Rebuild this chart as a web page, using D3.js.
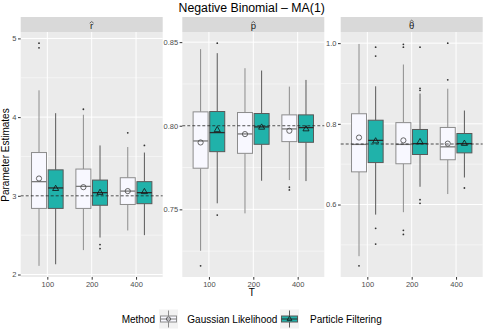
<!DOCTYPE html>
<html>
<head>
<meta charset="utf-8">
<script src="https://cdn.jsdelivr.net/npm/d3@7"></script>
<style>
  body { margin: 0; background: #fff; }
  text { font-family: "Liberation Sans", Arial, sans-serif; }
</style>
</head>
<body>
<div id="chart"></div>
<script>
// categories
const sizes = ["100", "200", "400"];
const methods = ["Gaussian Likelihood", "Particle Filtering"];
const panelLabels = ["r", "p", "\u03B8"]; // drawn with a hat on top
const trueValues = [3, 0.8, 0.75];
const yTicks = [[2, 3, 4, 5], [0.75, 0.8, 0.85], [0.6, 0.8, 1.0]];
const yMinor = [[2.5, 3.5, 4.5], [0.725, 0.775, 0.825], [0.5, 0.7, 0.9]];
const yFormat = [d3.format("d"), d3.format(".2f"), d3.format(".1f")];

// box stats per T: [lower whisker, q1, median, q3, upper whisker, mean]
const rGauss = [[2.11, 2.84, 3.18, 3.55, 4.34, 3.22], [2.31, 2.84, 3.12, 3.34, 4.03, 3.11], [2.56, 2.89, 3.06, 3.23, 3.62, 3.06]];
const rPF = [[2.13, 2.84, 3.10, 3.33, 4.05, 3.09], [2.47, 2.88, 3.04, 3.20, 3.64, 3.04], [2.50, 2.90, 3.04, 3.18, 3.55, 3.05]];
const pGauss = [[0.7252, 0.7746, 0.7909, 0.8083, 0.8458, 0.790], [0.7476, 0.7835, 0.7951, 0.8079, 0.8344, 0.795], [0.7675, 0.7905, 0.7981, 0.8065, 0.8234, 0.797]];
const pPF = [[0.7536, 0.7845, 0.7959, 0.8085, 0.8434, 0.7975], [0.7671, 0.7889, 0.7993, 0.8073, 0.8330, 0.799], [0.7669, 0.7901, 0.7989, 0.8065, 0.8274, 0.798]];
const thGauss = [[0.472, 0.681, 0.749, 0.825, 0.998, 0.766], [0.581, 0.701, 0.749, 0.803, 0.947, 0.759], [0.626, 0.711, 0.743, 0.791, 0.887, 0.751]];
const thPF = [[0.575, 0.704, 0.759, 0.809, 0.893, 0.757], [0.644, 0.724, 0.751, 0.786, 0.875, 0.755], [0.667, 0.728, 0.751, 0.776, 0.833, 0.751]];

// outliers per T
const rGaussOut = [[4.94, 4.88], [4.10], [3.80]];
const rPFOut = [[], [2.38, 2.33], [3.64]];
const pGaussOut = [[0.7162], [], [0.7632, 0.7616]];
const pPFOut = [[0.8494, 0.7466], [], []];
const thGaussOut = [[0.448], [0.997, 0.990, 0.536, 0.526], [1.0, 0.909]];
const thPFOut = [[0.990, 0.968, 0.541, 0.502], [0.990, 0.888, 0.883, 0.612, 0.603], [0.641]];

const stats = [[rGauss, rPF], [pGauss, pPF], [thGauss, thPF]];
const outliers = [[rGaussOut, rPFOut], [pGaussOut, pPFOut], [thGaussOut, thPFOut]];

//--- layout ---//
const width = 485, height = 336;
const panelLeft = [20.7, 182.3, 340.7];
const panelW = 142;
const stripTop = 17, stripH = 15, panelTop = 32, panelBottom = 277;

const fills = ["#F8F8FF", "#20B2AA"];
const outlines = ["#8c8c8c", "#595959"];
const medianCols = ["#7a7a7a", "#2b2b2b"];

const svg = d3.select("#chart").append("svg")
  .attr("width", width).attr("height", height);

svg.append("text")
  .attr("x", 251.7).attr("y", 12)
  .attr("text-anchor", "middle")
  .style("font-size", "12.3px")
  .text("Negative Binomial \u2013 MA(1)");

stats.forEach((panelStats, pi) => {
  const x0 = panelLeft[pi];
  const g = svg.append("g").attr("transform", `translate(${x0},0)`);

  // y domain with 5% expansion like ggplot
  const allVals = [];
  panelStats.forEach((m, mi) => m.forEach((s, si) => {
    allVals.push(s[0], s[4]);
    outliers[pi][mi][si].forEach(v => allVals.push(v));
  }));
  const ext = d3.extent(allVals);
  const pad = (ext[1] - ext[0]) * 0.05;
  const y = d3.scaleLinear().domain([ext[0] - pad, ext[1] + pad]).range([panelBottom, panelTop]);

  // discrete x: range of 0.4..3.6 units
  const x = d3.scaleLinear().domain([0.4, 3.6]).range([0, panelW]);
  const unit = panelW / 3.2;

  // strip
  g.append("rect").attr("y", stripTop).attr("width", panelW).attr("height", stripH).attr("fill", "#D9D9D9");
  g.append("text").attr("x", panelW / 2).attr("y", stripTop + 12)
    .attr("text-anchor", "middle").style("font-size", "9.5px").attr("fill", "#1A1A1A")
    .text(panelLabels[pi]);
  const hatY = pi === 2 ? stripTop + 3.2 : stripTop + 4.6;
  g.append("path")
    .attr("d", `M${panelW / 2 - 2},${hatY + 1.6}L${panelW / 2},${hatY}L${panelW / 2 + 2},${hatY + 1.6}`)
    .attr("fill", "none").attr("stroke", "#1A1A1A").attr("stroke-width", 0.6);

  // panel bg
  g.append("rect").attr("y", panelTop).attr("width", panelW).attr("height", panelBottom - panelTop).attr("fill", "#EBEBEB");

  // grid
  g.selectAll(".minor").data(yMinor[pi]).enter().append("line")
    .attr("x1", 0).attr("x2", panelW).attr("y1", d => y(d)).attr("y2", d => y(d))
    .attr("stroke", "#fff").attr("stroke-width", 0.5);
  g.selectAll(".major").data(yTicks[pi]).enter().append("line")
    .attr("x1", 0).attr("x2", panelW).attr("y1", d => y(d)).attr("y2", d => y(d))
    .attr("stroke", "#fff").attr("stroke-width", 1);
  g.selectAll(".vmajor").data(sizes).enter().append("line")
    .attr("x1", (d, i) => x(i + 1)).attr("x2", (d, i) => x(i + 1))
    .attr("y1", panelTop).attr("y2", panelBottom)
    .attr("stroke", "#fff").attr("stroke-width", 1);

  // y axis
  const yAxis = g.append("g").call(d3.axisLeft(y).tickValues(yTicks[pi]).tickFormat(yFormat[pi]).tickSize(2.7).tickPadding(1.5));
  yAxis.select(".domain").remove();
  yAxis.selectAll("line").attr("stroke", "#333");
  yAxis.selectAll("text").attr("fill", "#4D4D4D").style("font-size", "7.5px").attr("font-family", "Liberation Sans, Arial, sans-serif");

  // x axis
  const xAxis = g.append("g").attr("transform", `translate(0,${panelBottom})`)
    .call(d3.axisBottom(x).tickValues([1, 2, 3]).tickFormat((d, i) => sizes[i]).tickSize(2.7).tickPadding(1.5));
  xAxis.select(".domain").remove();
  xAxis.selectAll("line").attr("stroke", "#333");
  xAxis.selectAll("text").attr("fill", "#4D4D4D").style("font-size", "7.5px").attr("font-family", "Liberation Sans, Arial, sans-serif");

  // boxes
  const boxW = 0.3375 * unit;
  panelStats.forEach((methodStats, mi) => {
    methodStats.forEach((s, si) => {
      const cx = x(si + 1) + (mi === 0 ? -0.1875 : 0.1875) * unit;
      // whiskers
      g.append("line").attr("x1", cx).attr("x2", cx).attr("y1", y(s[4])).attr("y2", y(s[3]))
        .attr("stroke", outlines[mi]).attr("stroke-width", 1);
      g.append("line").attr("x1", cx).attr("x2", cx).attr("y1", y(s[1])).attr("y2", y(s[0]))
        .attr("stroke", outlines[mi]).attr("stroke-width", 1);
      // box
      g.append("rect").attr("x", cx - boxW / 2).attr("y", y(s[3]))
        .attr("width", boxW).attr("height", y(s[1]) - y(s[3]))
        .attr("fill", fills[mi]).attr("stroke", outlines[mi]).attr("stroke-width", 1);
      // median
      g.append("line").attr("x1", cx - boxW / 2).attr("x2", cx + boxW / 2)
        .attr("y1", y(s[2])).attr("y2", y(s[2]))
        .attr("stroke", medianCols[mi]).attr("stroke-width", 1.3);
      // outliers
      g.selectAll(null).data(outliers[pi][mi][si]).enter().append("circle")
        .attr("cx", cx).attr("cy", d => y(d)).attr("r", 0.9).attr("fill", "#333");
      // mean marker
      if (mi === 0) {
        g.append("circle").attr("cx", cx).attr("cy", y(s[5])).attr("r", 2.6)
          .attr("fill", "none").attr("stroke", "#444").attr("stroke-width", 0.8);
      } else {
        g.append("path").attr("transform", `translate(${cx},${y(s[5])})`)
          .attr("d", d3.symbol(d3.symbolTriangle, 16)())
          .attr("fill", "none").attr("stroke", "#111").attr("stroke-width", 0.8);
      }
    });
  });

  // reference line
  g.append("line").attr("x1", 0).attr("x2", panelW)
    .attr("y1", y(trueValues[pi])).attr("y2", y(trueValues[pi]))
    .attr("stroke", "#222").attr("stroke-width", 0.8).attr("stroke-dasharray", "3,2");
});

// axis titles
svg.append("text").attr("transform", "translate(9,155) rotate(-90)")
  .attr("text-anchor", "middle").style("font-size", "10px").text("Parameter Estimates");
svg.append("text").attr("x", 251.7).attr("y", 296)
  .attr("text-anchor", "middle").style("font-size", "10px").text("T");

// legend
const leg = svg.append("g").attr("transform", "translate(0,319)");
leg.append("text").attr("x", 121.7).attr("y", 3.5).style("font-size", "10px").text("Method");
const keyX = [159, 280];
const labelX = [187.3, 310];
methods.forEach((m, mi) => {
  const kx = keyX[mi];
  leg.append("rect").attr("x", kx).attr("y", -9.5).attr("width", 19).attr("height", 19).attr("fill", "#F2F2F2");
  const cx = kx + 9.5;
  leg.append("line").attr("x1", cx).attr("x2", cx).attr("y1", -8.5).attr("y2", 8.5).attr("stroke", outlines[mi]);
  leg.append("rect").attr("x", kx + 1.5).attr("y", -3).attr("width", 16).attr("height", 6)
    .attr("fill", fills[mi]).attr("stroke", outlines[mi]).attr("stroke-width", 1);
  leg.append("line").attr("x1", kx + 1.5).attr("x2", kx + 17.5).attr("y1", 0).attr("y2", 0)
    .attr("stroke", medianCols[mi]).attr("stroke-width", 1);
  if (mi === 0) {
    leg.append("circle").attr("cx", cx).attr("cy", 0).attr("r", 2.1).attr("fill", "none").attr("stroke", "#444").attr("stroke-width", 0.8);
  } else {
    leg.append("path").attr("transform", `translate(${cx},0)`).attr("d", d3.symbol(d3.symbolTriangle, 10)())
      .attr("fill", "none").attr("stroke", "#111").attr("stroke-width", 0.8);
  }
  leg.append("text").attr("x", labelX[mi]).attr("y", 3.5).style("font-size", "10px").text(m);
});
</script>
</body>
</html>
